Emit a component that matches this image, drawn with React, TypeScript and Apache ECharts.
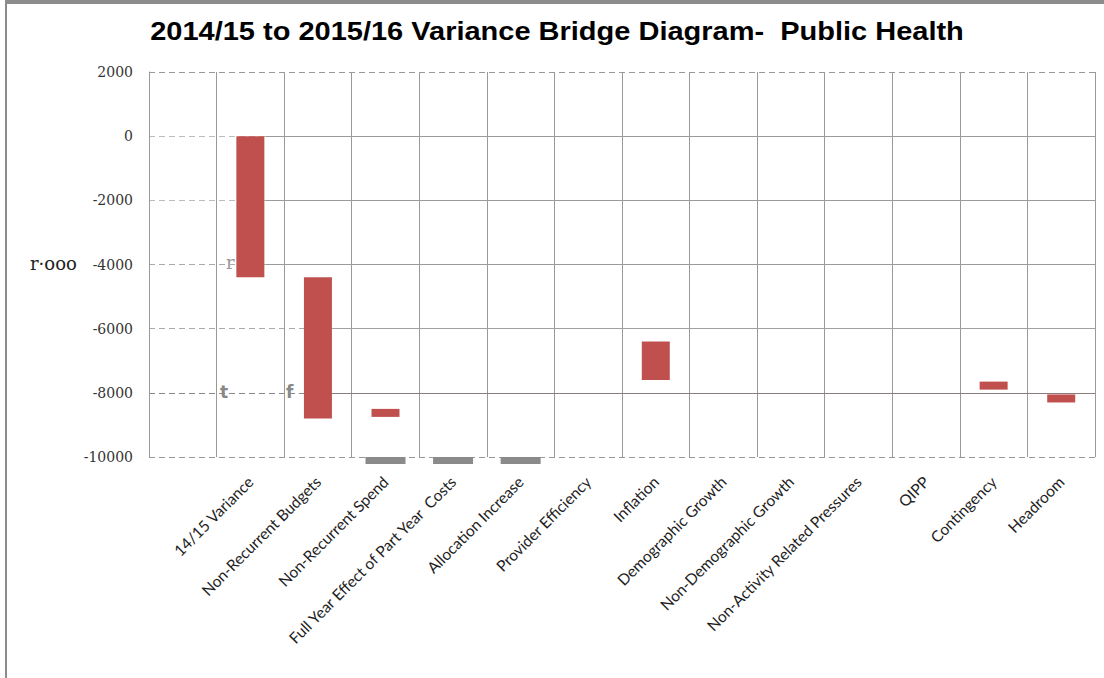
import React, { useEffect, useRef } from "react";
import * as echarts from "echarts";

// Bridge steps: each coloured block floats between a top and a bottom value (£'000)
const categories = [
  "",
  "14/15 Variance",
  "Non-Recurrent Budgets",
  "Non-Recurrent Spend",
  "Full Year Effect of Part Year  Costs",
  "Allocation Increase",
  "Provider Efficiency",
  "Inflation",
  "Demographic Growth",
  "Non-Demographic Growth",
  "Non-Activity Related Pressures",
  "QIPP",
  "Contingency",
  "Headroom",
];
const stepTop = [null, 0, -4400, -8500, null, null, null, -6400, null, null, null, null, -7650, -8050];
const stepBottom = [null, -4400, -8800, -8750, null, null, null, -7600, null, null, null, null, -7900, -8300];

// Grey blocks sitting just under the axis floor
const floorDepth = [null, null, null, -220, -220, -220, null, null, null, null, null, null, null, null];

const yTicks = { min: -10000, max: 2000, interval: 2000 };

export default function App() {
  const ref = useRef<HTMLDivElement>(null);

  useEffect(() => {
    if (!ref.current) return;
    const chart = echarts.init(ref.current, undefined, { renderer: "svg" });

    const baseData = stepTop.map((t) => (t === null ? null : t));
    const deltaData = stepTop.map((t, i) =>
      t === null || stepBottom[i] === null ? null : (stepBottom[i] as number) - t
    );
    const floorBase = floorDepth.map((d) => (d === null ? null : yTicks.min));

    const solidGrid = (start: number, y: number, color: string) => [
      { coord: [start, y], lineStyle: { color, type: "solid", width: 1 } },
      { coord: [14, y] },
    ];

    chart.setOption({
      animation: false,
      backgroundColor: "#ffffff",
      grid: { left: 149, right: 9, top: 72, bottom: 221, containLabel: false },
      xAxis: [
        {
          type: "category",
          data: categories,
          boundaryGap: true,
          axisLine: { show: false },
          axisTick: { show: false },
          splitLine: { show: true, interval: 0, lineStyle: { color: "#999", width: 1 } },
          axisLabel: {
            interval: 0,
            rotate: 45,
            margin: 22,
            fontFamily: "Lato, sans-serif",
            fontSize: 15.5,
            color: "#1e1e1e",
          },
        },
        {
          type: "category",
          data: categories,
          show: false,
        },
        {
          type: "value",
          min: 0,
          max: 14,
          show: false,
        },
      ],
      yAxis: {
        type: "value",
        min: yTicks.min,
        max: yTicks.max,
        interval: yTicks.interval,
        axisLine: { show: true, lineStyle: { color: "#999" } },
        axisTick: { show: false },
        axisLabel: {
          margin: 16,
          fontFamily: "DejaVu Serif, serif",
          fontSize: 14,
          color: "#333",
          formatter: (v: number) => String(v),
        },
        splitLine: {
          show: true,
          lineStyle: {
            type: [6, 4],
            width: 1.2,
            color: ["#999", "#888", "#aaa", "#aaa", "#bbb", "#bbb", "#999"],
          },
        },
      },
      series: [
        {
          name: "base",
          type: "bar",
          stack: "bridge",
          barWidth: 28,
          silent: true,
          itemStyle: { color: "transparent" },
          data: baseData,
        },
        {
          name: "change",
          type: "bar",
          stack: "bridge",
          barWidth: 28,
          itemStyle: { color: "#c0504d" },
          data: deltaData,
        },
        {
          name: "floorBase",
          type: "bar",
          xAxisIndex: 1,
          stack: "floor",
          barWidth: 40,
          silent: true,
          itemStyle: { color: "transparent" },
          data: floorBase,
        },
        {
          name: "floor",
          type: "bar",
          xAxisIndex: 1,
          stack: "floor",
          barWidth: 40,
          clip: false,
          itemStyle: { color: "#8a8a8a" },
          data: floorDepth,
        },
        {
          name: "grid",
          type: "line",
          xAxisIndex: 2,
          data: [],
          silent: true,
          markLine: {
            silent: true,
            symbol: "none",
            label: { show: false },
            data: [
              solidGrid(1.72, 0, "#9a9a9a"),
              solidGrid(1.72, -2000, "#9a9a9a"),
              solidGrid(1.72, -4000, "#9a9a9a"),
              solidGrid(2.71, -6000, "#a0a0a0"),
              solidGrid(2.71, -8000, "#8c7b7b"),
            ],
          },
        },
      ],
      graphic: [
        { type: "rect", shape: { x: 5, y: 0, width: 1099, height: 4 }, style: { fill: "#8c8c8c" } },
        { type: "rect", shape: { x: 5, y: 0, width: 2, height: 678 }, style: { fill: "#8c8c8c" } },
        {
          type: "text",
          x: 557,
          y: 31,
          scaleX: 1.16,
          style: {
            text: "2014/15 to 2015/16 Variance Bridge Diagram-  Public Health",
            font: "bold 25px 'Liberation Sans', Arial, sans-serif",
            fill: "#000",
            align: "center",
            verticalAlign: "middle",
          },
        },
        {
          type: "text",
          x: 30,
          y: 254,
          style: { text: "r·ooo", font: "18px 'DejaVu Serif', serif", fill: "#222" },
        },
        {
          type: "text",
          x: 226,
          y: 253,
          style: { text: "r", font: "18px 'DejaVu Serif', serif", fill: "#999" },
        },
        {
          type: "text",
          x: 220,
          y: 383,
          style: { text: "t", font: "bold 17px 'DejaVu Sans', sans-serif", fill: "#888" },
        },
        {
          type: "text",
          x: 286,
          y: 383,
          style: { text: "f", font: "bold 17px 'DejaVu Sans', sans-serif", fill: "#888" },
        },
      ],
    });

    return () => chart.dispose();
  }, []);

  return (
    <div
      ref={ref}
      style={{ position: "absolute", left: 0, top: 0, width: 1104, height: 678 }}
    />
  );
}
